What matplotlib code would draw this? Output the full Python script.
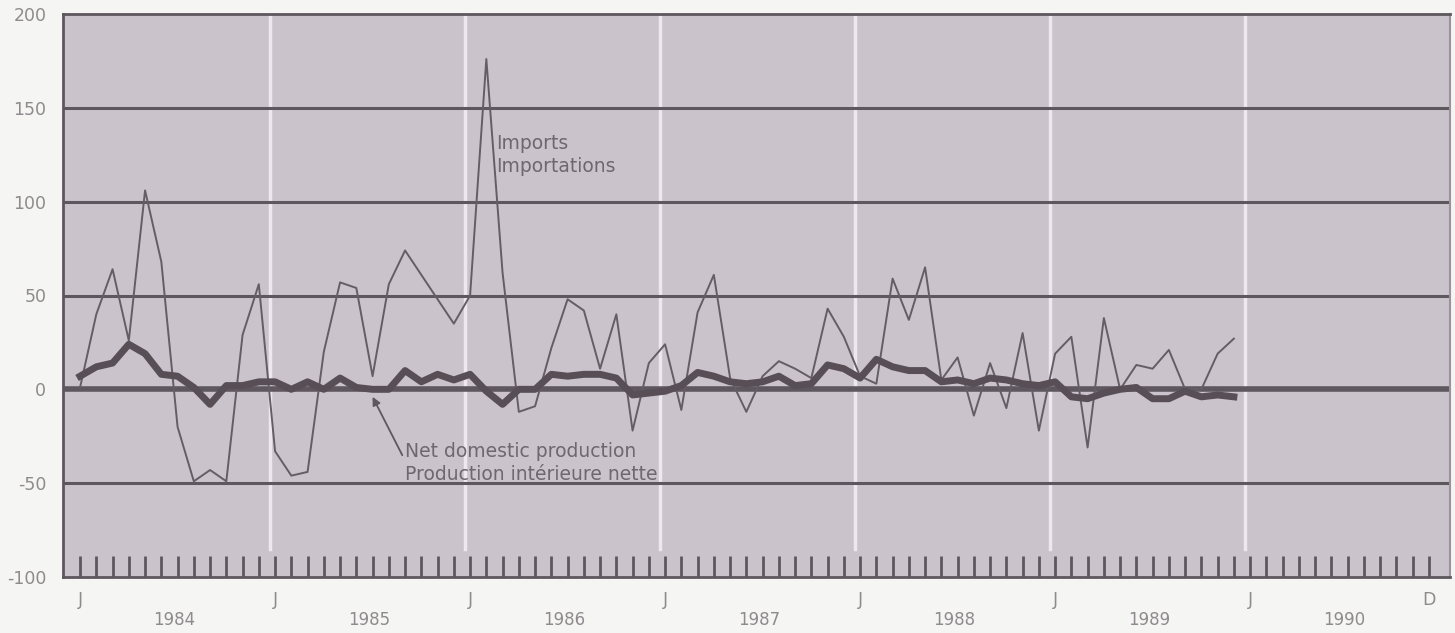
import matplotlib.pyplot as plt

# monthly values, Jan 1984 - Dec 1989
imports = [1, 40, 64, 26, 106, 68, -20, -49, -43, -49, 29, 56,
           -33, -46, -44, 20, 57, 54, 7, 56, 74, 61, 48, 35,
           50, 176, 62, -12, -9, 22, 48, 42, 11, 40, -22, 14,
           24, -11, 41, 61, 6, -12, 7, 15, 11, 6, 43, 28,
           7, 3, 59, 37, 65, 5, 17, -14, 14, -10, 30, -22,
           19, 28, -31, 38, 0, 13, 11, 21, 0, 0, 19, 27]
net_domestic = [7, 12, 14, 24, 19, 8, 7, 1, -8, 2, 2, 4,
                4, 0, 4, 0, 6, 1, 0, 0, 10, 4, 8, 5,
                8, -1, -8, 0, 0, 8, 7, 8, 8, 6, -3, -2,
                -1, 2, 9, 7, 4, 3, 4, 7, 2, 3, 13, 11,
                6, 16, 12, 10, 10, 4, 5, 3, 6, 5, 3, 2,
                4, -4, -5, -2, 0, 1, -5, -5, -1, -4, -3, -4]
years = [1984, 1985, 1986, 1987, 1988, 1989, 1990]
yticks = [-100, -50, 0, 50, 100, 150, 200]

n_months = 12 * len(years)
months = list(range(n_months))
x_data = months[:len(imports)]

bg = "#cbc3cc"
dark = "#5e575e"
txt = "#6d6770"
lab = "#8e8a8e"

fig = plt.figure(figsize=(14.55, 6.33), dpi=100)
fig.patch.set_facecolor("#f5f5f3")
ax = fig.add_axes([63 / 1455, 1 - 577 / 633, 1387 / 1455, 563 / 633])
ax.set_facecolor(bg)

ax.set_xlim(-1.05, 84.3)
ax.set_ylim(-100, 200)

# year separators (white) and horizontal rules
for k in range(1, len(years)):
    ax.axvline(12 * k - 0.3, ymin=0.05, ymax=1, color="#ece8ee", lw=2.5, zorder=1)
for v in yticks[1:-1]:
    ax.axhline(v, color=dark, lw=4 if v == 0 else 2.2, zorder=2)

ax.plot(x_data, imports, color="#655d66", lw=1.4, zorder=3)
ax.plot(x_data, net_domestic, color="#574e56", lw=5, solid_joinstyle="round", zorder=4)

# spines
for side in ["left", "top", "bottom"]:
    ax.spines[side].set_color(dark)
    ax.spines[side].set_linewidth(2)
ax.spines["right"].set_color("#9a949a")
ax.spines["right"].set_linewidth(1.5)

ax.set_yticks(yticks)
ax.set_yticklabels([str(v) for v in yticks])
ax.tick_params(axis="y", length=0, pad=12, labelsize=12.5, labelcolor=lab)

xlabels = [""] * n_months
for k in range(len(years)):
    xlabels[12 * k] = "J"
xlabels[-1] = "D"
ax.set_xticks(months)
ax.set_xticklabels(xlabels)
ax.tick_params(axis="x", direction="in", length=15, width=2, color=dark,
               pad=10, labelsize=12.5, labelcolor=lab)

for k, yr in enumerate(years):
    ax.text(12 * k + 5.8, -0.076, str(yr), transform=ax.get_xaxis_transform(),
            ha="center", va="center", fontsize=12, color=lab)

ax.text(25.6, 136, "Imports\nImportations", fontsize=13.5, color=txt,
        va="top", ha="left", linespacing=1.25, zorder=5)
ax.annotate("Net domestic production\nProduction intérieure nette",
            xy=(18, -4), xytext=(20, -28), fontsize=13.5, color=txt,
            va="top", ha="left", linespacing=1.25,
            arrowprops=dict(arrowstyle="-|>", color="#5e575e", lw=1.3,
                            shrinkA=0, shrinkB=0, mutation_scale=12,
                            relpos=(0, 0.55)),
            zorder=5)

fig.savefig("out.png", dpi=100, facecolor=fig.get_facecolor())
